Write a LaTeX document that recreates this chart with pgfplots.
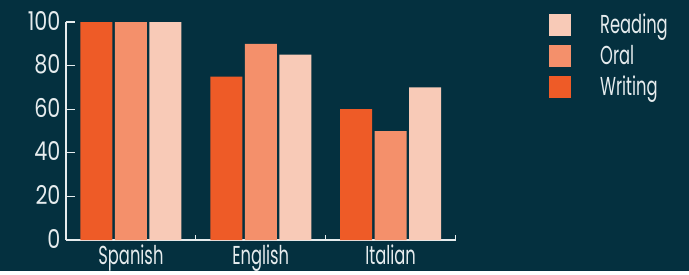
\documentclass[border=0pt]{standalone}
\usepackage{pgfplots}
\pgfplotsset{compat=1.18}
\usepackage{fontspec}
\setmainfont[FakeStretch=0.63]{Poppins}
\newfontfamily\numfont[FakeStretch=0.8]{Poppins}
\usetikzlibrary{calc,backgrounds}
\definecolor{bg}{HTML}{04303F}
\definecolor{fg}{HTML}{E6ECEE}
\definecolor{cwrite}{HTML}{EE5B27}
\definecolor{coral}{HTML}{F4906B}
\definecolor{cread}{HTML}{F8CAB7}
\begin{document}
\begin{tikzpicture}
\begin{axis}[name=ax, scale only axis, width=389.5bp, height=218bp,
  ybar=2.5bp, bar width=32bp,
  xmin=-0.5, xmax=2.5, ymin=0, ymax=100, enlargelimits=false,
  axis x line=bottom, axis y line=left,
  axis line style={-, draw=fg, line width=1.2bp},
  xtick={0,1,2}, xticklabels={Spanish,English,Italian},
  major x tick style={draw=none},
  minor xtick={0.5,1.5,2.5},
  minor x tick style={draw=fg, line width=1.2bp},
  minor tick length=5bp,
  ytick={0,20,...,100},
  y tick style={draw=fg, line width=1.2bp},
  major tick length=9bp,
  tick align=inside,
  /pgf/number format/assume math mode=true,
  tick label style={font=\fontsize{26}{26}\selectfont, text=fg},
  yticklabel style={font=\numfont\fontsize{26}{26}\selectfont, xshift=-2bp, yshift=1.5bp},
  xticklabel style={yshift=-1bp},
  reverse legend,
  legend cell align=left,
  legend style={at={(1.24,1.046)}, anchor=north west, draw=none, fill=none,
    inner sep=0pt, font=\fontsize{26}{26}\selectfont, text=fg,
    row sep=6bp,
    /tikz/every odd column/.append style={column sep=27bp}},
  legend image code/.code={\fill[#1, draw=none] (0bp,-11bp) rectangle (22bp,11bp);},
]
\addplot[fill=cwrite, draw=none] coordinates {(0,100) (1,75) (2,60)};
\addplot[fill=coral, draw=none] coordinates {(0,100) (1,90) (2,50)};
\addplot[fill=cread, draw=none] coordinates {(0,100) (1,85) (2,70)};
\legend{Writing, Oral, Reading}
\end{axis}
\begin{scope}[on background layer]
\fill[bg] ($(ax.south west)+(-66bp,-31bp)$) rectangle ++(689bp,271bp);
\end{scope}
\end{tikzpicture}
\end{document}
